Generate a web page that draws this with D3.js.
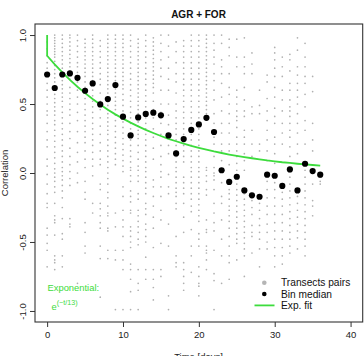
<!DOCTYPE html>
<html>
<head>
<meta charset="utf-8">
<script src="https://cdn.jsdelivr.net/npm/d3@7"></script>
<style>
  body { margin: 0; background: #fff; }
  svg text { font-family: "Liberation Sans", Arial, sans-serif; }
</style>
</head>
<body>
<div id="chart"></div>
<script>
// values
var title = "AGR + FOR";
var xTicks = [0, 10, 20, 30, 40];
var yTicks = [-1, -0.5, 0, 0.5, 1];
var yTickLabels = ["-1.0", "-0.5", "0.0", "0.5", "1.0"];

var days = d3.range(0, 37);

// bin medians, one per day
var medians = [0.714, 0.616, 0.714, 0.722, 0.69, 0.596, 0.649, 0.497, 0.536, 0.638,
  0.408, 0.272, 0.403, 0.428, 0.437, 0.418, 0.272, 0.142, 0.246, 0.312,
  0.352, 0.40, 0.297, 0.02, -0.065, -0.027, -0.126, -0.162, -0.172, -0.012,
  -0.02, -0.094, 0.026, -0.126, 0.067, 0.014, -0.012];

// exp fit (nugget at 0), sampled per day
var fitDays = [0, 0, 1, 2, 3, 4, 5, 6, 7, 8, 9, 10, 11, 12, 13, 14, 15, 16, 17, 18,
  19, 20, 21, 22, 23, 24, 25, 26, 27, 28, 29, 30, 31, 32, 33, 34, 35, 36];
var fitVals = [1, 0.85, 0.787, 0.729, 0.675, 0.625, 0.579, 0.536, 0.496, 0.459, 0.425,
  0.394, 0.365, 0.338, 0.313, 0.290, 0.268, 0.248, 0.230, 0.213, 0.197, 0.183,
  0.169, 0.156, 0.145, 0.134, 0.124, 0.115, 0.107, 0.099, 0.091, 0.085, 0.078,
  0.073, 0.067, 0.062, 0.058, 0.053];

// transect pair correlations per day (hundredths)
var pairCols = [
  "95 90 85 80 76 70 65 60 55 50 45 42 36 30 24 19 10 5 -1 -8 -15 -22 -25 -40 -45 -51 -56 -68",
  "100 98 96 94 92 90 88 86 84 81 78 75 72 69 66 63 60 57 54 51 48 45 42 38 35 31 27 23 19 15 11 7 3 0 -3 -6 -10 -14 -22 -31 -34 -36 -45 -60 -63 -65 -70",
  "100 97 94 91 88 85 82 79 76 73 70 67 64 61 58 55 52 48 44 40 36 32 28 24 20 16 12 8 4 1 -2 -5 -9 -13 -18 -25 -33 -44 -48 -60 -68",
  "100 98 95 92 89 86 83 80 77 74 71 68 62 58 54 50 46 42 36 30 25 18 12 6 1 -4 -9 -33 -37 -39",
  "100 96 92 88 84 80 77 73 70 66 60 55 50 44 38 30 22 15 8 0 -7 -80",
  "97 94 91 88 85 82 79 76 73 70 66 62 58 54 50 46 42 38 34 30 26 22 16 10 4 -6 -14 -19 -36 -43 -53 -58",
  "100 97 94 91 88 85 82 79 76 73 70 67 64 60 56 52 48 44 40 36 32 28 24 20 15 10 5 -2 -22 -29",
  "96 92 88 84 80 76 72 68 64 58 52 46 40 34 28 22 16 10 6 -8 -12 -22 -26 -31 -36 -40 -53 -62 -90",
  "100 97 94 91 88 85 82 79 76 73 70 67 64 61 58 55 52 49 46 43 40 37 34 31 28 24 20 16 12 8 4 0 -4 -8 -14 -18 -24 -29 -31 -40 -42 -56 -62",
  "100 97 94 91 88 85 82 79 76 73 70 67 64 61 58 55 52 49 46 42 38 34 30 26 22 18 14 10 6 -29 -39 -56 -63 -99",
  "100 97 94 91 88 85 82 79 76 73 70 67 64 61 57 53 49 45 41 37 33 29 25 21 17 13 9 5 1 -10 -17 -27 -34 -39 -46 -56 -63 -70 -99",
  "100 96 92 88 84 80 76 72 68 64 60 56 52 48 44 40 36 32 28 24 20 16 12 8 4 2 -2 -6 -13 -17 -21 -27 -29 -39 -42 -46 -50 -54 -66 -70 -77 -86 -99",
  "97 94 91 88 85 82 79 76 73 70 67 64 61 58 55 52 49 46 43 40 37 34 31 28 25 20 15 10 5 2 -2 -6 -15 -19 -27 -31 -35 -39 -43 -48 -52 -70 -80 -85 -99",
  "100 96 92 88 84 80 76 72 68 64 60 56 52 48 44 40 36 32 28 24 20 16 12 8 4 1 -3 -7 -11 -15 -22 -26 -30 -37 -41 -46 -50 -61 -70 -77",
  "98 95 92 89 86 83 80 77 74 71 68 65 62 58 52 46 40 32 26 18 10 -5 -10 -17 -24 -32 -40 -54 -70 -77 -83 -92",
  "100 94 88 82 76 70 60 50 44 36 28 20 12 6 1 -3 -10 -17 -27 -34 -51 -70 -75",
  "100 92 84 76 68 60 50 42 35 26 20 14 -1 -10 -15 -37 -53 -89 -99",
  "95 88 80 72 66 58 50 45 40 36 32 28 24 20 16 12 8 4 1 -3 -7 -11 -14 -17 -22 -26 -46 -60 -65 -68",
  "96 92 88 84 80 76 72 68 64 60 56 52 48 44 40 36 32 28 24 20 16 12 8 -3 -7 -11 -15 -22 -32 -43 -65 -70 -75 -80 -85",
  "100 96 92 88 84 80 76 72 68 64 60 56 52 48 44 40 36 32 28 24 20 16 12 8 4 1 -3 -7 -11 -15 -19 -24 -28 -41 -53 -60 -72",
  "100 96 92 88 84 80 76 72 68 64 60 56 52 48 44 40 36 32 28 24 20 16 12 8 4 1 -3 -7 -11 -15 -19 -23 -27 -31 -35 -44 -48 -53 -68 -75 -80 -82 -89",
  "100 97 94 91 88 85 82 79 76 73 70 67 64 61 58 55 52 49 46 43 40 4 2 -2 -6 -12 -16 -34 -41 -43 -53 -56 -58 -63 -70",
  "100 94 89 84 79 72 67 60 53 43 36 26 21 12 4 0 -2 -5 -12 -22 -29 -36 -42 -56 -73 -78 -99",
  "100 94 82 77 72 65 55 45 36 29 21 16 9 2 -7 -17 -22 -34 -48 -60 -80",
  "97 91 85 72 62 57 50 43 36 29 21 16 6 -12 -15 -19 -24 -27 -31 -35 -40 -46 -53 -60 -65 -77",
  "97 84 77 60 55 50 45 41 38 33 26 21 16 12 7 2 -8 -12 -16 -20 -24 -28 -32 -36 -40 -44 -48 -51 -63",
  "98 84 77 72 62 53 45 41 31 26 21 14 9 2 -15 -19 -23 -27 -31 -35 -39 -43 -47 -51 -55 -60 -75",
  "87 79 72 48 43 31 21 12 -20 -25 -30 -38 -43 -46 -58",
  "60 49 43 21 16 -22 -27 -33 -38 -43 -48 -55 -68",
  "71 66 54 45 38 31 24 16 9 -6 -12 -18 -24 -30 -37 -43 -50 -55",
  "91 87 82 76 70 62 55 47 41 36 26 21 14 7 -7 -12 -18 -24 -30 -36 -42 -48 -54 -60 -68",
  "84 77 70 60 53 45 36 29 21 -14 -19 -24 -30 -36 -42 -48 -54 -60 -66",
  "86 82 74 65 60 53 48 45 41 36 31 26 19 12 1 -3 -8 -13 -18 -23 -28 -33 -38 -43 -48 -53 -58",
  "98 89 77 71 65 60 55 50 43 36 29 21 14 -17 -22 -27 -32 -37 -42 -47 -55",
  "94 84 77 70 65 57 48 38 31 21 7 2 -3 -8 -13 -18 -23 -28 -33 -38 -43 -48 -53 -60",
  "70 59 36 24 16 0 -8 -20 -24 -31",
  "-3 -6 -8"
];

var legendItems = ["Transects pairs", "Bin median", "Exp. fit"];
var fitLabel = "Exponential:";

var W = 364, H = 356;
var green = "#3ddc3d";

var svg = d3.select("#chart").append("svg")
  .attr("width", W)
  .attr("height", H);

var x = d3.scaleLinear().domain([-1.6, 41.6]).range([35, 362.7]);
var y = d3.scaleLinear().domain([-1.08, 1.08]).range([322, 24]);

// flatten the pair columns
var pairs = [];
pairCols.forEach(function(s, i) {
  s.split(" ").forEach(function(v) {
    pairs.push({day: days[i], value: +v / 100});
  });
});

svg.append("g")
  .selectAll("circle")
  .data(pairs)
  .enter().append("circle")
  .attr("cx", function(d) { return x(d.day); })
  .attr("cy", function(d) { return y(d.value); })
  .attr("r", 0.85)
  .attr("fill", "#b0b0b0");

var line = d3.line()
  .x(function(d, i) { return x(fitDays[i]); })
  .y(function(d) { return y(d); });

svg.append("path")
  .datum(fitVals)
  .attr("d", line)
  .attr("fill", "none")
  .attr("stroke", green)
  .attr("stroke-width", 1.8);

svg.append("g")
  .selectAll("circle")
  .data(medians)
  .enter().append("circle")
  .attr("cx", function(d, i) { return x(days[i]); })
  .attr("cy", function(d) { return y(d); })
  .attr("r", 3.1)
  .attr("fill", "#000");

// box
svg.append("rect")
  .attr("x", 35).attr("y", 24)
  .attr("width", 327.7).attr("height", 298)
  .attr("fill", "none")
  .attr("stroke", "#333")
  .attr("stroke-width", 1.1);

// axes
var xAxis = d3.axisBottom(x).tickValues(xTicks).tickSize(5).tickPadding(4);
var gx = svg.append("g")
  .attr("transform", "translate(0,322)")
  .call(xAxis);
gx.select(".domain").remove();
gx.selectAll("line").attr("stroke", "#333");
gx.selectAll("text")
  .attr("font-size", "9.5px")
  .attr("fill", "#222")
  .attr("font-family", "Liberation Sans, Arial, sans-serif");

var yAxis = d3.axisLeft(y).tickValues(yTicks).tickSize(5)
  .tickFormat(function(d, i) { return yTickLabels[i]; });
var gy = svg.append("g")
  .attr("transform", "translate(35,0)")
  .call(yAxis);
gy.select(".domain").remove();
gy.selectAll("line").attr("stroke", "#333");
gy.selectAll("text")
  .attr("x", 0).attr("y", 0).attr("dy", null)
  .attr("text-anchor", "middle")
  .attr("transform", "translate(-9.5,0) rotate(-90)")
  .attr("font-size", "9.5px")
  .attr("fill", "#222")
  .attr("font-family", "Liberation Sans, Arial, sans-serif");

// titles
svg.append("text")
  .attr("x", 198.5).attr("y", 17.5)
  .attr("text-anchor", "middle")
  .attr("font-size", "10px")
  .attr("font-weight", "bold")
  .attr("fill", "#111")
  .text(title);

svg.append("text")
  .attr("transform", "translate(7.5,173) rotate(-90)")
  .attr("text-anchor", "middle")
  .attr("font-size", "9.5px")
  .attr("fill", "#222")
  .text("Correlation");

svg.append("text")
  .attr("x", 198.5).attr("y", 359.5)
  .attr("text-anchor", "middle")
  .attr("font-size", "9.5px")
  .attr("fill", "#222")
  .text("Time [days]");

// fit label
svg.append("text")
  .attr("x", 47.5).attr("y", 290.8)
  .attr("font-size", "9.4px")
  .attr("fill", green)
  .text(fitLabel);

var eq = svg.append("text")
  .attr("x", 51.5).attr("y", 310)
  .attr("font-size", "9.4px")
  .attr("fill", green);
eq.append("tspan").text("e");
eq.append("tspan")
  .attr("dy", -5)
  .attr("font-size", "7.2px")
  .text("(\u2212t/13)");

// legend
var lg = svg.append("g");
lg.append("circle").attr("cx", 264.3).attr("cy", 282.7).attr("r", 2.3).attr("fill", "#b5b5b5");
lg.append("circle").attr("cx", 264.3).attr("cy", 294).attr("r", 2.3).attr("fill", "#000");
lg.append("line")
  .attr("x1", 254.5).attr("x2", 274.5)
  .attr("y1", 305.4).attr("y2", 305.4)
  .attr("stroke", green).attr("stroke-width", 1.8);
lg.selectAll("text.leg")
  .data(legendItems)
  .enter().append("text")
  .attr("class", "leg")
  .attr("x", 281)
  .attr("y", function(d, i) { return 286.3 + i * 11.3; })
  .attr("font-size", "10.2px")
  .attr("fill", "#111")
  .text(function(d) { return d; });
</script>
</body>
</html>
